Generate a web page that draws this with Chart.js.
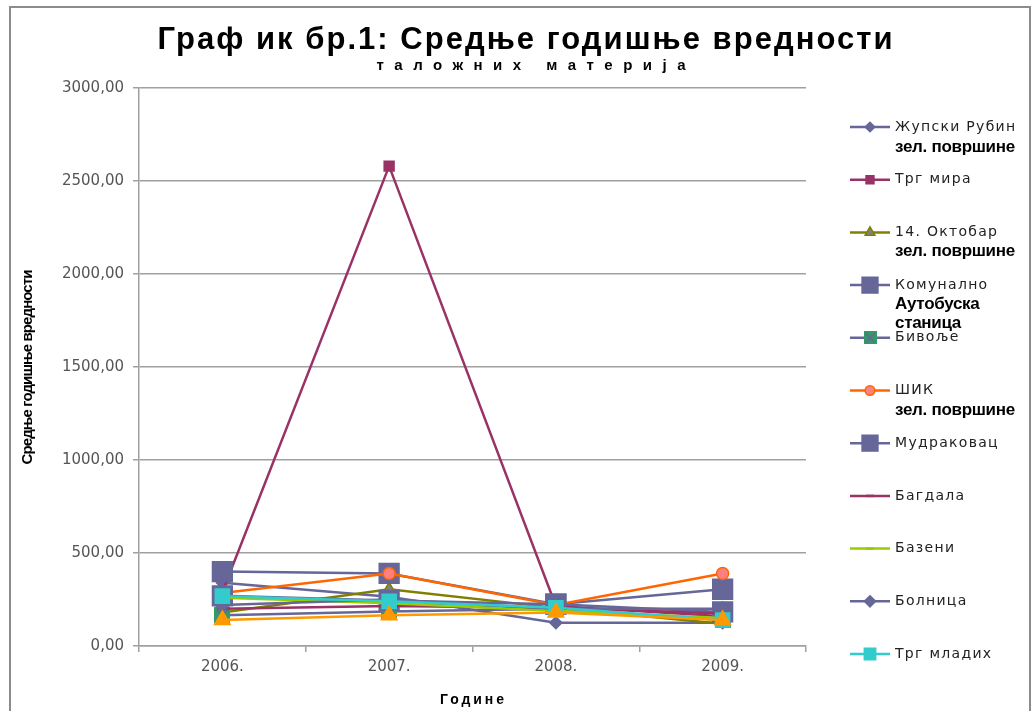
<!DOCTYPE html>
<html>
<head>
<meta charset="utf-8">
<script src="https://cdn.jsdelivr.net/npm/chart.js@4.4.0/dist/chart.umd.min.js"></script>
<style>
  html, body { margin: 0; padding: 0; background: #fff; }
  #wrap { position: relative; width: 1035px; height: 711px; }
</style>
</head>
<body>
<div id="wrap"><canvas id="chart"></canvas></div>
<script>
// categories and series
const years = ['2006.', '2007.', '2008.', '2009.'];
const zupskiRubin = [340, 265, 125, 125];
const trgMira = [290, 2580, 215, 160];
const oktobar14 = [180, 305, 205, 120];
const komunalno = [400, 390, 225, 305];
const bivolje = [165, 185, 200, 140];
const sik = [285, 390, 220, 390];
const mudrakovac = [270, 245, 225, 183];
const bagdala = [200, 215, 205, 175];
const bazeni = [260, 230, 190, 150];
const bolnica = [220, 250, 200, 200];
const trgMladih = [268, 240, 205, 140];
const hiddenSeries = [140, 165, 180, 140]; // legend entry cut off in the picture

// green square with a slate cross, used for Бивоље
function crossBox(size) {
  const c = document.createElement('canvas');
  c.width = size; c.height = size;
  const g = c.getContext('2d');
  g.fillStyle = '#339966';
  g.fillRect(0, 0, size, size);
  g.strokeStyle = '#666699';
  g.lineWidth = 1.5;
  g.beginPath();
  g.moveTo(2, 2); g.lineTo(size - 2, size - 2);
  g.moveTo(size - 2, 2); g.lineTo(2, size - 2);
  g.stroke();
  return c;
}

const series = [
  { label: 'Жупски Рубин', data: zupskiRubin, line: '#666699', fill: '#666699', style: 'rectRot', r: 6 },
  { label: 'Трг мира', data: trgMira, line: '#993366', fill: '#993366', style: 'rect', r: 7 },
  { label: '14. Октобар', data: oktobar14, line: '#808000', fill: '#808080', style: 'triangle', r: 7 },
  { label: 'Комунално', data: komunalno, line: '#666699', fill: '#666699', style: 'rect', r: 14 },
  { label: 'Бивоље', data: bivolje, line: '#666699', fill: '#339966', style: crossBox(16), legendStyle: crossBox(13), r: 8 },
  { label: 'ШИК', data: sik, line: '#FF6600', fill: '#FF8080', style: 'circle', r: 6 },
  { label: 'Мудраковац', data: mudrakovac, line: '#666699', fill: '#666699', style: 'rect', r: 14 },
  { label: 'Багдала', data: bagdala, line: '#993366', fill: '#993366', style: 'line', r: 5 },
  { label: 'Базени', data: bazeni, line: '#99CC00', fill: '#99CC00', style: 'line', r: 5 },
  { label: 'Болница', data: bolnica, line: '#666699', fill: '#666699', style: 'rectRot', r: 7 },
  { label: 'Трг младих', data: trgMladih, line: '#33CCCC', fill: '#33CCCC', style: 'rect', r: 10 },
  { label: '', data: hiddenSeries, line: '#FF9900', fill: '#FF9900', style: 'triangle', r: 9 }
];

// bold captions lying over the legend
const notes = [
  { text: 'зел. површине', y: 147 },
  { text: 'зел. површине', y: 251 },
  { text: 'Аутобуска', y: 304 },
  { text: 'станица', y: 323 },
  { text: 'зел. површине', y: 410 }
];

const narrow = '"Liberation Sans Narrow", "Liberation Sans"';

function spaced(ctx, text, x, y, font, color, width, align) {
  ctx.save();
  ctx.font = font;
  ctx.fillStyle = color;
  ctx.letterSpacing = '0px';
  const w0 = ctx.measureText(text).width;
  const ls = width ? (width - w0) / Math.max(text.length - 1, 1) : 0;
  ctx.letterSpacing = ls + 'px';
  ctx.textBaseline = 'middle';
  ctx.textAlign = 'left';
  ctx.fillText(text, align === 'center' ? x - width / 2 : x, y);
  ctx.restore();
}

const decor = {
  id: 'decor',
  afterDraw(chart) {
    const ctx = chart.ctx;
    // chart frame
    ctx.save();
    ctx.strokeStyle = '#8c8c8c';
    ctx.lineWidth = 2;
    ctx.strokeRect(10, 7, 1020, 720);
    ctx.restore();

    spaced(ctx, 'Граф ик бр.1: Средње годишње вредности', 525, 40, 'bold 31px ' + narrow, '#000', 735, 'center');
    spaced(ctx, 'таложних материја', 531, 66, 'bold 15px "Liberation Sans"', '#000', 309, 'center');
    spaced(ctx, 'Године', 472, 700, 'bold 14px "Liberation Sans"', '#000', 64, 'center');

    ctx.save();
    ctx.translate(28, 367);
    ctx.rotate(-Math.PI / 2);
    spaced(ctx, 'Средње годишње вредности', 0, 0, 'bold 15px ' + narrow, '#000', 195, 'center');
    ctx.restore();

    // legend
    let row = 0;
    chart.data.datasets.forEach((ds, i) => {
      if (!ds.label) return;
      const y = 127 + row * 52.7;
      row++;
      const s = series[i];
      ctx.save();
      ctx.strokeStyle = ds.borderColor;
      ctx.lineWidth = 2.5;
      ctx.beginPath();
      ctx.moveTo(850, y);
      ctx.lineTo(890, y);
      ctx.stroke();
      ctx.fillStyle = ds.pointBackgroundColor;
      ctx.strokeStyle = ds.pointBorderColor;
      ctx.lineWidth = ds.pointStyle === 'line' ? 2.5 : 1.5;
      Chart.helpers.drawPoint(ctx, {
        pointStyle: s.legendStyle || ds.pointStyle, radius: ds.pointRadius * 0.8, rotation: 0, borderWidth: 1.5
      }, 870, y);
      ctx.restore();
      ctx.save();
      ctx.font = '14px "DejaVu Sans"';
      ctx.letterSpacing = '1.3px';
      ctx.fillStyle = '#222';
      ctx.textBaseline = 'middle';
      ctx.fillText(ds.label, 895, y);
      ctx.restore();
    });

    notes.forEach(n => {
      ctx.save();
      ctx.font = 'bold 17px "Liberation Sans"';
      ctx.letterSpacing = '-0.3px';
      ctx.fillStyle = '#000';
      ctx.textBaseline = 'middle';
      ctx.fillText(n.text, 895, n.y);
      ctx.restore();
    });
  }
};

const n = series.length;
new Chart(document.getElementById('chart'), {
  type: 'line',
  data: {
    labels: years,
    datasets: series.map((s, i) => ({
      label: s.label,
      data: s.data,
      borderColor: s.line,
      backgroundColor: s.fill,
      pointBackgroundColor: s.fill,
      pointBorderColor: s.style === 'circle' ? s.line : (s.style === 'triangle' && s.fill === '#808080' ? s.line : s.fill),
      pointStyle: s.style,
      pointRadius: s.r,
      pointHoverRadius: s.r,
      pointBorderWidth: 1.5,
      borderWidth: 2.5,
      tension: 0,
      fill: false,
      order: n - i
    }))
  },
  options: {
    responsive: true,
    maintainAspectRatio: false,
    animation: false,
    layout: { padding: { left: 0, top: 88, right: 229, bottom: 0 } },
    plugins: {
      legend: { display: false },
      title: { display: false },
      tooltip: { enabled: false }
    },
    scales: {
      x: {
        offset: true,
        afterFit: s => { s.height = 65; },
        grid: { offset: true, drawOnChartArea: false, drawTicks: true, tickLength: 6, color: '#a0a0a0', lineWidth: 1.5 },
        border: { color: '#a0a0a0', width: 1.5 },
        ticks: { font: { family: 'DejaVu Sans', size: 15 }, color: '#555', padding: 6 }
      },
      y: {
        min: 0,
        max: 3000,
        afterFit: s => { s.width = 139; },
        grid: { color: '#a0a0a0', lineWidth: 1.5, tickLength: 6 },
        border: { color: '#a0a0a0', width: 1.5 },
        ticks: {
          stepSize: 500,
          font: { family: 'DejaVu Sans', size: 15 },
          color: '#555',
          padding: 9,
          callback: v => v.toFixed(2).replace('.', ',')
        }
      }
    }
  },
  plugins: [decor]
});
</script>
</body>
</html>
